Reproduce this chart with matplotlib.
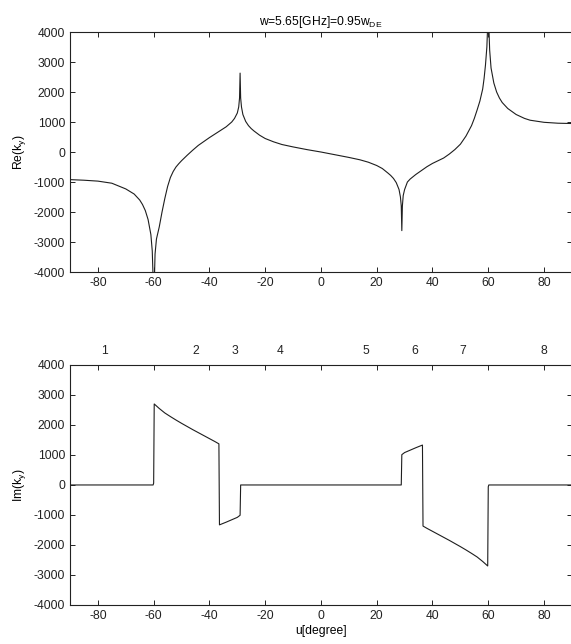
import matplotlib
matplotlib.use('Agg')
import matplotlib.pyplot as plt

plt.rcParams['font.family'] = ['Liberation Sans', 'DejaVu Sans']
plt.rcParams['mathtext.default'] = 'regular'
plt.rcParams['axes.unicode_minus'] = False
FONTSIZE = 8.7

# Re(k_y) curve
re_u = [-90, -85, -80, -75, -70, -67, -65, -64, -63, -62, -61, -60.5, -60.1, -60.0,
        -59.8, -59.5, -59, -58, -57, -56, -55, -54, -53, -52, -51, -50, -48, -46,
        -44, -42,
        -40, -38, -36, -34, -32, -31, -30, -29.5, -29.2, -29.0, -28.8, -28.5, -28,
        -27, -26, -25, -24, -22, -20, -17, -14, -10, -5, 0,
        5, 10, 14, 17, 20, 22, 24, 25, 26, 27, 28, 28.5, 28.8, 29.0, 29.2, 29.5,
        30, 31, 32, 34, 36, 38, 40, 42, 44, 46, 48, 50, 52, 54, 55, 56, 57, 58,
        58.5, 59, 59.5, 59.9, 60.0, 60.1, 60.5, 61, 62, 63, 64, 65, 67, 70, 73, 75,
        80, 85, 90]
re_ky = [-920, -940, -970, -1040, -1230, -1400, -1600, -1750, -1950, -2250, -2750,
         -3300, -4500, -6000,
         -4500, -3400, -2900, -2500, -2000, -1550, -1150, -850, -650, -500, -390,
         -290, -110, 60,
         220, 350,
         480, 600, 720, 840, 1000, 1120, 1300, 1500, 1800, 2630, 1800, 1500, 1250,
         1020, 880, 780, 700, 560, 450, 340, 250, 170, 80, 0,
         -90, -180, -260, -340, -450, -550, -700, -780, -880, -1020, -1250, -1500,
         -1800, -2620, -1800, -1450,
         -1250, -1000, -900, -750, -620, -490, -380, -290, -200, -70, 80, 260, 530,
         880, 1120, 1400, 1700, 2100,
         2450, 2900, 3500, 4500, 6000, 4500, 3400, 2800, 2300, 2000, 1800, 1650,
         1450, 1250, 1120, 1060,
         990, 960, 950]

# Im(k_y) curve
im_u = [-90, -60.2, -60.0, -59.8, -58, -56, -54, -52, -50, -48, -46, -44, -42, -40,
        -38, -36.6, -36.4, -34, -32, -30, -29.0, -28.8,
        28.8, 29.0, 30, 32, 34, 36.4, 36.6, 38, 40, 42, 44, 46, 48, 50, 52, 54,
        56, 58, 59.8, 60.0, 60.2, 90]
im_ky = [0, 0, 60, 2700, 2550, 2400, 2280, 2165, 2055, 1950, 1845, 1745, 1645, 1545,
         1445, 1370, -1330, -1240, -1160, -1080, -1010, 0,
         0, 1010, 1080, 1160, 1240, 1330, -1370, -1445, -1545, -1645, -1745, -1845,
         -1950, -2055, -2165, -2280, -2400, -2550, -2700, -60, 0, 0]

# region numbers above the bottom panel
region_u = [-77.5, -45, -31, -14.5, 16, 33.5, 51, 80]
region_labels = ['1', '2', '3', '4', '5', '6', '7', '8']

xticks = list(range(-80, 81, 20))
yticks = list(range(-4000, 4001, 1000))

fig = plt.figure(figsize=(5.71, 6.44), dpi=100)
ax1 = fig.add_axes([0.1226, 0.5776, 0.879, 0.3727])
ax2 = fig.add_axes([0.1226, 0.0606, 0.879, 0.3727])

line_color = '#1e1e1e'
ax1.plot(re_u, re_ky, color=line_color, linewidth=0.8)
ax2.plot(im_u, im_ky, color=line_color, linewidth=0.8)

for ax in (ax1, ax2):
    ax.set_xlim(-90, 90)
    ax.set_ylim(-4000, 4000)
    ax.set_xticks(xticks)
    ax.set_yticks(yticks)
    ax.tick_params(direction='in', top=True, right=True, length=3.5, width=0.7,
                   labelsize=FONTSIZE, pad=3.5, colors='#222222')
    for sp in ax.spines.values():
        sp.set_linewidth(0.8)
        sp.set_color('#222222')

ax1.set_title('w=5.65[GHz]=0.95w$_{DE}$', fontsize=FONTSIZE, pad=5)
ax1.set_ylabel('Re(k$_y$)', fontsize=FONTSIZE, labelpad=4)
ax2.set_ylabel('Im(k$_y$)', fontsize=FONTSIZE, labelpad=4)
ax2.set_xlabel('u[degree]', fontsize=FONTSIZE, labelpad=2)

for u, s in zip(region_u, region_labels):
    ax2.text(u, 4250, s, ha='center', va='bottom', fontsize=FONTSIZE,
             color='#222222', clip_on=False)

fig.savefig('out.png', dpi=100)
